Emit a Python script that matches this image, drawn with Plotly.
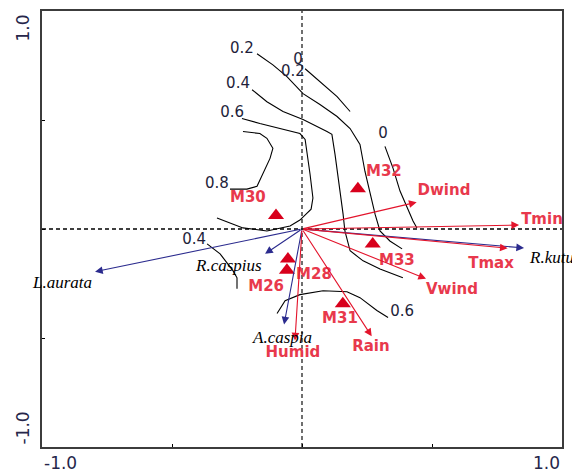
import plotly.graph_objects as go

# ---------------- data (ordination scores) ----------------
env_names = ["Dwind", "Tmin", "Tmax", "Vwind", "Rain", "Humid"]
env_x = [0.441, 0.835, 0.791, 0.477, 0.268, -0.027]
env_y = [0.123, 0.018, -0.088, -0.228, -0.492, -0.511]
env_lab_x = [0.546, 0.923, 0.727, 0.577, 0.265, -0.035]
env_lab_y = [0.174, 0.041, -0.160, -0.279, -0.543, -0.571]

sp_names = ["L.aurata", "R.caspius", "A.caspia", "R.kutum"]
sp_x = [-0.796, -0.142, -0.069, 0.854]
sp_y = [-0.196, -0.114, -0.438, -0.087]
sp_lab_x = [-0.923, -0.281, -0.077, 0.865]
sp_lab_y = [-0.247, -0.169, -0.498, -0.132]

site_names = ["M32", "M30", "M33", "M28", "M26", "M31"]
site_x = [0.215, -0.100, 0.272, -0.054, -0.058, 0.157]
site_y = [0.185, 0.062, -0.069, -0.138, -0.189, -0.343]
site_lab_x = [0.315, -0.208, 0.365, 0.046, -0.138, 0.146]
site_lab_y = [0.260, 0.142, -0.146, -0.210, -0.269, -0.416]

# contour isolines
c0_top_x = [0.012, 0.069, 0.135, 0.185]
c0_top_y = [0.735, 0.676, 0.607, 0.539]
c02_x = [-0.173, -0.112, -0.058, 0.004, 0.069, 0.135, 0.185, 0.223, 0.242, 0.262, 0.281, 0.300, 0.338, 0.385]
c02_y = [0.804, 0.753, 0.699, 0.621, 0.571, 0.516, 0.461, 0.388, 0.265, 0.160, 0.068, -0.009, -0.055, -0.091]
c04_x = [-0.192, -0.135, -0.073, 0.004, 0.096, 0.115, 0.127, 0.146, 0.158, 0.165, 0.185, 0.235, 0.300, 0.388]
c04_y = [0.639, 0.584, 0.539, 0.502, 0.447, 0.434, 0.342, 0.187, 0.068, -0.009, -0.100, -0.146, -0.183, -0.224]
c06_x = [-0.231, -0.162, -0.008, 0.012, 0.031, 0.042, 0.035, -0.008, -0.046, -0.135, -0.227, -0.327]
c06_y = [0.507, 0.484, 0.438, 0.411, 0.251, 0.142, 0.091, 0.041, 0.014, -0.009, 0.005, 0.050]
c08_x = [-0.227, -0.162, -0.135, -0.112, -0.123, -0.150, -0.173, -0.212, -0.277]
c08_y = [0.447, 0.438, 0.416, 0.370, 0.324, 0.251, 0.196, 0.183, 0.183]
c0_right_x = [0.319, 0.350, 0.377, 0.404, 0.427, 0.442]
c0_right_y = [0.379, 0.279, 0.174, 0.096, 0.037, 0.005]
c04_low_x = [-0.365, -0.315, -0.265, -0.250, -0.250]
c04_low_y = [-0.068, -0.114, -0.192, -0.224, -0.274]
c06_low_x = [-0.096, -0.065, -0.008, 0.081, 0.173, 0.223, 0.288, 0.331]
c06_low_y = [-0.388, -0.329, -0.301, -0.283, -0.288, -0.315, -0.374, -0.406]

contour_lines = [(c0_top_x, c0_top_y), (c02_x, c02_y), (c04_x, c04_y), (c06_x, c06_y),
                 (c08_x, c08_y), (c0_right_x, c0_right_y), (c04_low_x, c04_low_y),
                 (c06_low_x, c06_low_y)]

clab_text = ["0.2", "0", "0.2", "0.4", "0.6", "0.8", "0", "0.4", "0.6"]
clab_x = [-0.231, -0.015, -0.035, -0.246, -0.269, -0.327, 0.312, -0.415, 0.385]
clab_y = [0.826, 0.776, 0.721, 0.662, 0.530, 0.205, 0.434, -0.050, -0.384]

# ---------------- styles ----------------
RED = "#e3142c"
RED_TXT = "#e8394c"
BLUE = "#2b2b8e"

fig = go.Figure()

# dashed zero lines
fig.add_shape(type="line", x0=-1, x1=1, y0=0, y1=0, xref="x", yref="y",
              line=dict(color="black", width=1.3, dash="4px,3px"), layer="below")
fig.add_shape(type="line", x0=0, x1=0, y0=-1, y1=1, xref="x", yref="y",
              line=dict(color="#222", width=1.3, dash="4px,3px"), layer="below")

for cx, cy in contour_lines:
    fig.add_trace(go.Scatter(x=cx, y=cy, mode="lines",
                             line=dict(color="black", width=1.1),
                             hoverinfo="skip", showlegend=False))

fig.add_trace(go.Scatter(x=clab_x, y=clab_y, mode="text", text=clab_text,
                         textfont=dict(family="DejaVu Sans", size=15, color="#1e1e3a"),
                         showlegend=False, hoverinfo="skip"))

# arrows
annotations = []
for tx, ty in zip(sp_x, sp_y):
    annotations.append(dict(x=tx, y=ty, ax=0, ay=0, xref="x", yref="y", axref="x", ayref="y",
                            text="", showarrow=True, arrowhead=2, arrowsize=1.4,
                            arrowwidth=1.1, arrowcolor=BLUE, standoff=0))
for tx, ty in zip(env_x, env_y):
    annotations.append(dict(x=tx, y=ty, ax=0, ay=0, xref="x", yref="y", axref="x", ayref="y",
                            text="", showarrow=True, arrowhead=2, arrowsize=1.4,
                            arrowwidth=1.1, arrowcolor=RED, standoff=0))

# sites
fig.add_trace(go.Scatter(x=site_x, y=site_y, mode="markers",
                         marker=dict(symbol="triangle-up", size=14, color="#d8001c",
                                     line=dict(width=0)),
                         showlegend=False, hoverinfo="skip"))
fig.add_trace(go.Scatter(x=site_lab_x, y=site_lab_y, mode="text", text=site_names,
                         textfont=dict(family="DejaVu Sans", size=15, color=RED_TXT, weight="bold"),
                         showlegend=False, hoverinfo="skip"))
fig.add_trace(go.Scatter(x=env_lab_x, y=env_lab_y, mode="text", text=env_names,
                         textfont=dict(family="DejaVu Sans", size=15, color=RED_TXT, weight="bold"),
                         showlegend=False, hoverinfo="skip", cliponaxis=False))

# species labels
for name, lx, ly in zip(sp_names, sp_lab_x, sp_lab_y):
    annotations.append(dict(x=lx, y=ly, xref="x", yref="y", text=name, showarrow=False,
                            xanchor="left" if name == "R.kutum" else "center",
                            font=dict(family="Liberation Serif", size=17, color="black",
                                      style="italic")))

# axis end labels
tick_font = dict(family="DejaVu Sans", size=17, color="#26264a")
annotations += [
    dict(x=-1, y=0, xref="x", yref="paper", yshift=-16, text="-1.0", showarrow=False,
         xanchor="left", yanchor="middle", font=tick_font),
    dict(x=1, y=0, xref="x", yref="paper", yshift=-16, text="1.0", showarrow=False,
         xanchor="right", yanchor="middle", font=tick_font),
    dict(x=0, y=1, xref="paper", yref="y", xshift=-20, yshift=-2, text="1.0", showarrow=False,
         textangle=-90, xanchor="center", yanchor="top", font=tick_font),
    dict(x=0, y=-1, xref="paper", yref="y", xshift=-20, text="-1.0", showarrow=False,
         textangle=-90, xanchor="center", yanchor="bottom", font=tick_font),
]

# the page body adds an 8px offset; margins compensate so the frame sits where the reference has it
fig.update_layout(
    width=572, height=465,
    margin=dict(l=34, r=18, t=1, b=26),
    paper_bgcolor="white", plot_bgcolor="white",
    annotations=annotations,
    showlegend=False,
)
fig.update_xaxes(range=[-1, 1], showgrid=False, zeroline=False, showline=True, mirror=True,
                 linecolor="#3c3c3c", linewidth=2, tickvals=[-0.5, 0, 0.5], ticks="inside",
                 ticklen=3, tickcolor="black", showticklabels=False)
fig.update_yaxes(range=[-1, 1], showgrid=False, zeroline=False, showline=True, mirror=True,
                 linecolor="#3c3c3c", linewidth=2, tickvals=[-0.5, 0, 0.5], ticks="inside",
                 ticklen=3, tickcolor="black", showticklabels=False)

fig.write_html("out.html")
